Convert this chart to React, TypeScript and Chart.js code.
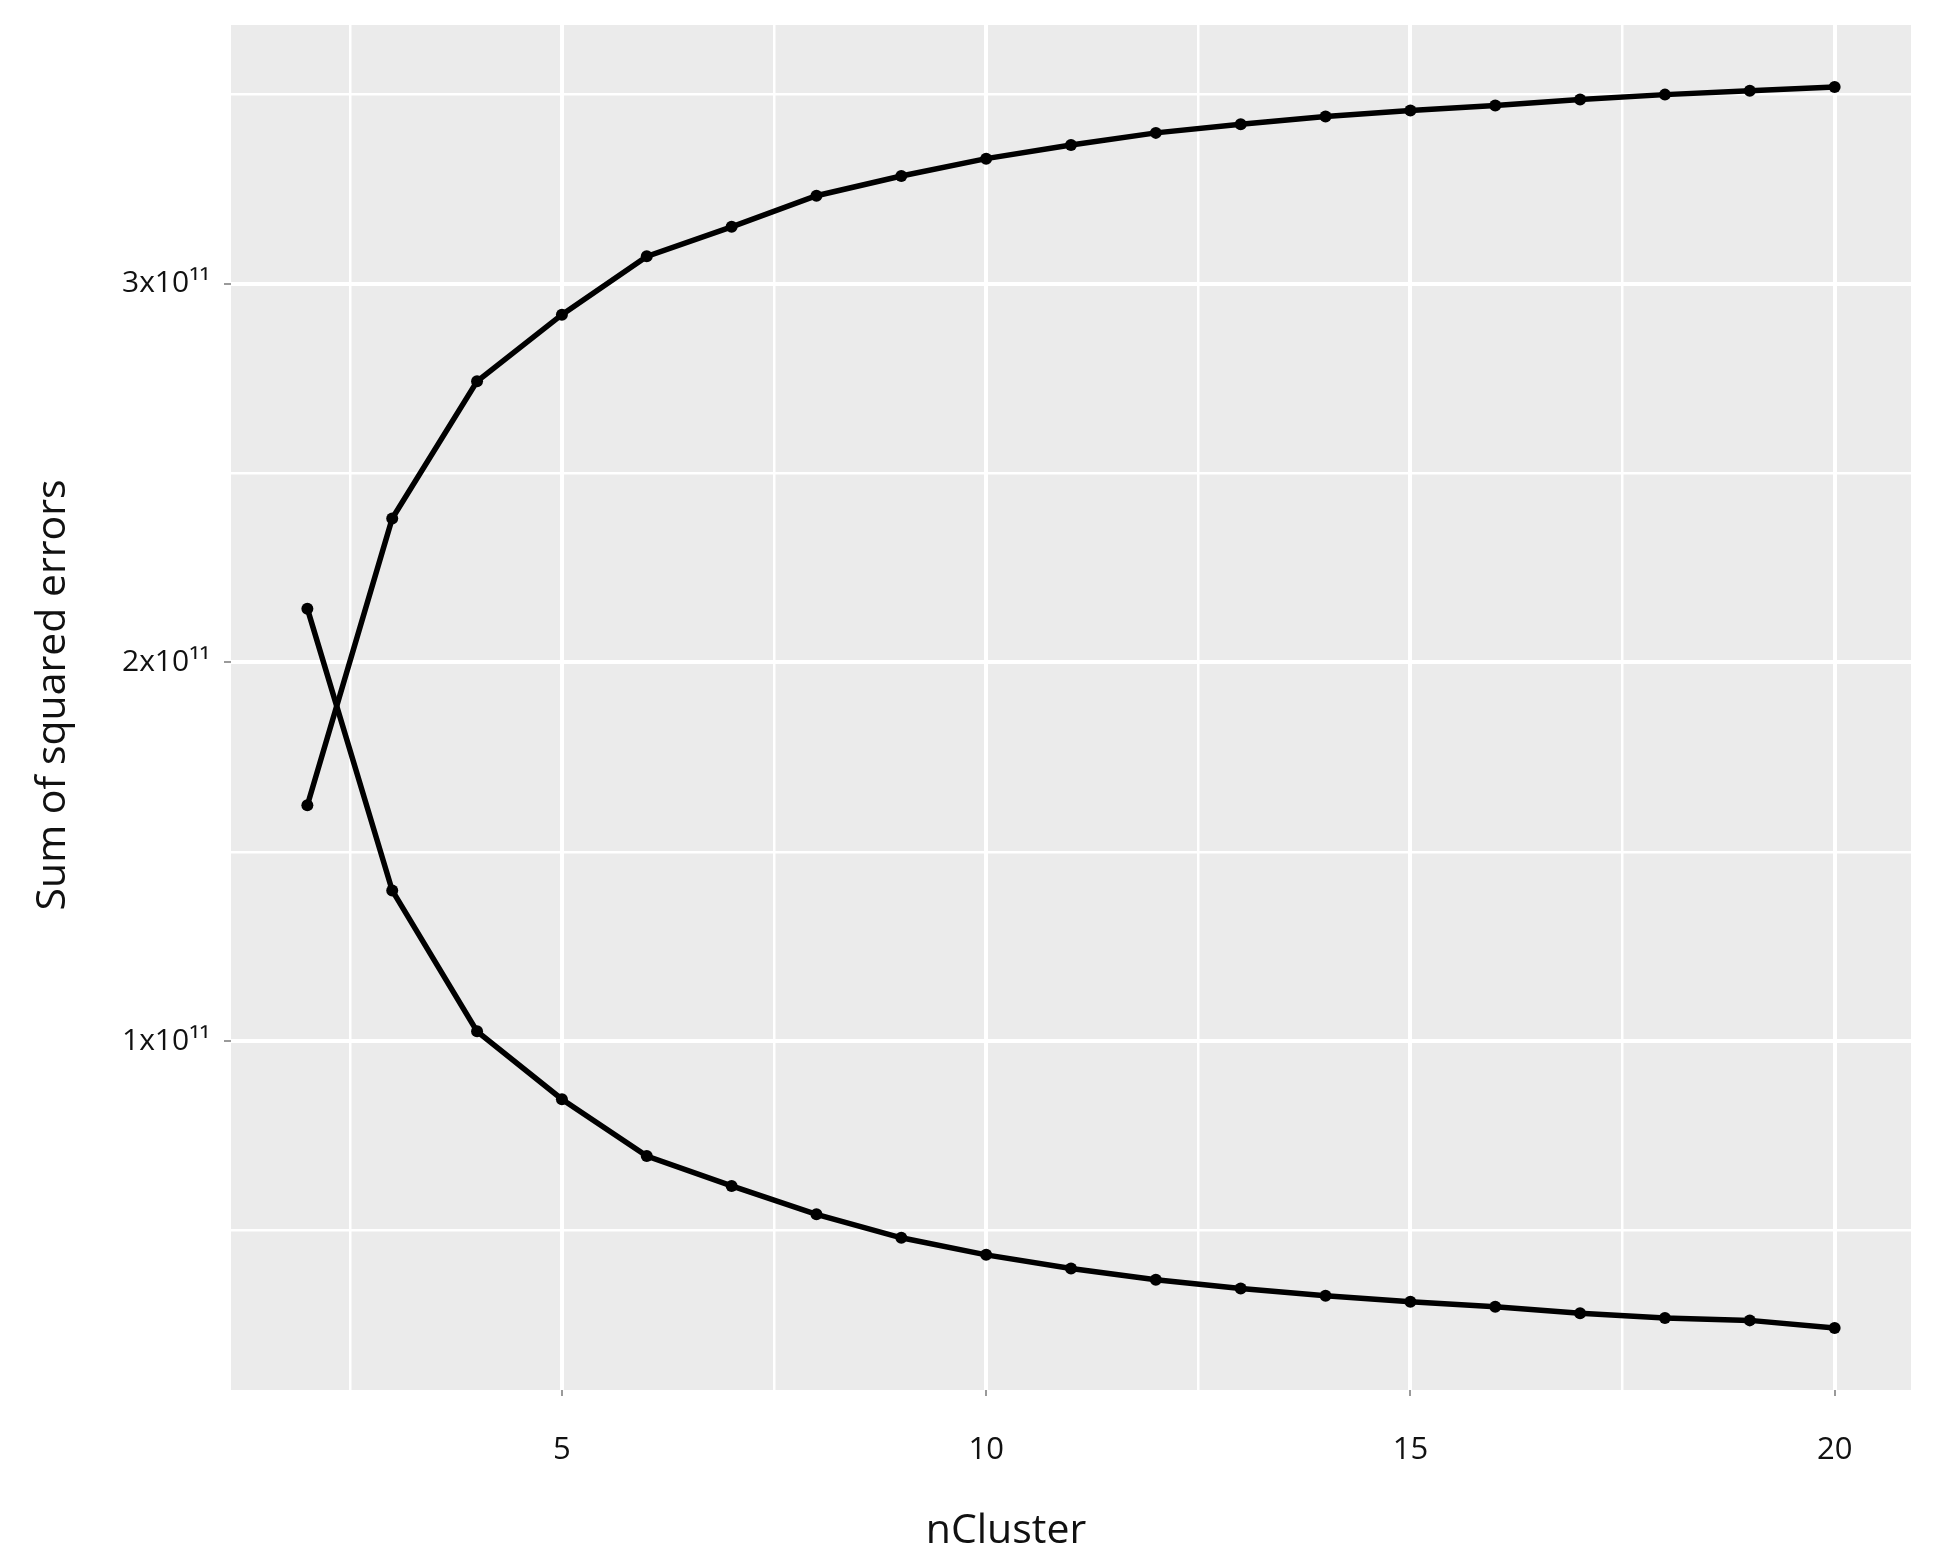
import React, { useEffect, useRef } from "react";
import { Chart, registerables } from "chart.js";

Chart.register(...registerables);

// number of clusters
const nCluster = [2, 3, 4, 5, 6, 7, 8, 9, 10, 11, 12, 13, 14, 15, 16, 17, 18, 19, 20];

// rising curve (between-cluster sum of squares)
const upperSSE = [
  1.623e11, 2.38e11, 2.742e11, 2.918e11, 3.072e11, 3.15e11, 3.232e11, 3.284e11, 3.33e11,
  3.366e11, 3.398e11, 3.421e11, 3.441e11, 3.457e11, 3.47e11, 3.486e11, 3.499e11, 3.509e11, 3.519e11,
];

// falling curve (within-cluster sum of squares)
const lowerSSE = [
  2.142e11, 1.398e11, 1.026e11, 0.847e11, 0.697e11, 0.618e11, 0.543e11, 0.481e11, 0.436e11,
  0.4e11, 0.37e11, 0.347e11, 0.328e11, 0.312e11, 0.299e11, 0.282e11, 0.269e11, 0.263e11, 0.243e11,
];

const xTicks = [2.5, 5, 7.5, 10, 12.5, 15, 17.5, 20];
const xTickLabels = ["", "5", "", "10", "", "15", "", "20"];
const yTicks = [0.5e11, 1e11, 1.5e11, 2e11, 2.5e11, 3e11, 3.5e11];
const yTickLabels = ["", "1x10¹¹", "", "2x10¹¹", "", "3x10¹¹", ""];

const xTitle = "nCluster";
const yTitle = "Sum of squared errors";

const FONT = "'Open Sans', 'Noto Sans', sans-serif";

const panelBg = {
  id: "panelBg",
  beforeDraw(chart: any) {
    const { ctx, chartArea } = chart;
    if (!chartArea) return;
    ctx.save();
    ctx.fillStyle = "#EBEBEB";
    ctx.fillRect(chartArea.left, chartArea.top, chartArea.right - chartArea.left, chartArea.bottom - chartArea.top);
    ctx.restore();
  },
};

// axis titles, placed where the reference has them
const axisTitles = {
  id: "axisTitles",
  afterDraw(chart: any) {
    const { ctx } = chart;
    ctx.save();
    ctx.fillStyle = "#111";
    ctx.font = `41px ${FONT}`;
    ctx.textAlign = "center";
    ctx.textBaseline = "alphabetic";
    ctx.fillText(xTitle, 998, 1535);
    ctx.translate(57, 687);
    ctx.rotate(-Math.PI / 2);
    ctx.fillText(yTitle, 0, 0);
    ctx.restore();
  },
};

function expand(vals: number[], frac: number) {
  const mn = Math.min(...vals);
  const mx = Math.max(...vals);
  const r = mx - mn;
  return [mn - r * frac, mx + r * frac];
}

function noPad(scale: any) {
  scale.paddingTop = 0;
  scale.paddingBottom = 0;
  scale.paddingLeft = 0;
  scale.paddingRight = 0;
}

export default function App() {
  const ref = useRef<HTMLCanvasElement | null>(null);

  useEffect(() => {
    if (!ref.current) return;
    const [xMin, xMax] = expand(nCluster, 0.05);
    const [yMin, yMax] = expand([...upperSSE, ...lowerSSE], 0.05);
    const toPts = (ys: number[]) => nCluster.map((x, i) => ({ x, y: ys[i] }));
    const isMajorX = (v: number) => Number.isInteger(v);
    const isMajorY = (v: number) => Number.isInteger(Math.round((v / 1e11) * 1000) / 1000);

    const lineStyle = {
      borderColor: "#000",
      backgroundColor: "#000",
      borderWidth: 5.5,
      pointRadius: 6,
      pointBorderWidth: 0,
      pointBackgroundColor: "#000",
      tension: 0,
    };

    const chart = new Chart(ref.current, {
      type: "line",
      data: {
        datasets: [
          { label: "upper", data: toPts(upperSSE), ...lineStyle },
          { label: "lower", data: toPts(lowerSSE), ...lineStyle },
        ],
      },
      plugins: [panelBg, axisTitles],
      options: {
        responsive: false,
        animation: false,
        layout: { padding: { top: 17, right: 18, left: 0, bottom: 0 } },
        plugins: {
          legend: { display: false },
          tooltip: { enabled: false },
        },
        scales: {
          x: {
            type: "linear",
            min: xMin,
            max: xMax,
            afterBuildTicks: (scale: any) => {
              scale.ticks = xTicks.map((v) => ({ value: v }));
            },
            afterFit: (scale: any) => {
              scale.height = 168;
              noPad(scale);
            },
            border: { display: false },
            grid: {
              color: "#FFFFFF",
              lineWidth: (c: any) => (isMajorX(c.tick?.value) ? 4 : 2.5),
              drawTicks: true,
              tickLength: 6,
              tickWidth: 2,
              tickColor: (c: any) => (isMajorX(c.tick?.value) ? "#9a9a9a" : "rgba(0,0,0,0)"),
            },
            ticks: {
              autoSkip: false,
              maxRotation: 0,
              padding: 36,
              color: "#111",
              font: { family: FONT, size: 31 },
              callback: (v: any) => {
                const i = xTicks.indexOf(Number(v));
                return i >= 0 ? xTickLabels[i] : "";
              },
            },
            title: { display: false },
          },
          y: {
            type: "linear",
            min: yMin,
            max: yMax,
            afterBuildTicks: (scale: any) => {
              scale.ticks = yTicks.map((v) => ({ value: v }));
            },
            afterFit: (scale: any) => {
              scale.width = 223;
              noPad(scale);
            },
            border: { display: false },
            grid: {
              color: "#FFFFFF",
              lineWidth: (c: any) => (isMajorY(c.tick?.value) ? 4 : 2.5),
              drawTicks: true,
              tickLength: 7,
              tickWidth: 2,
              tickColor: (c: any) => (isMajorY(c.tick?.value) ? "#9a9a9a" : "rgba(0,0,0,0)"),
            },
            ticks: {
              autoSkip: false,
              padding: 14,
              color: "#111",
              font: { family: FONT, size: 30 },
              callback: (v: any) => {
                const i = yTicks.findIndex((t) => Math.abs(t - Number(v)) < 1e6);
                return i >= 0 ? yTickLabels[i] : "";
              },
            },
            title: { display: false },
          },
        },
      },
    });
    return () => chart.destroy();
  }, []);

  return (
    <div style={{ width: 1921, height: 1550 }}>
      <canvas ref={ref} width={1921} height={1550} style={{ display: "block", width: 1921, height: 1550 }} />
    </div>
  );
}
